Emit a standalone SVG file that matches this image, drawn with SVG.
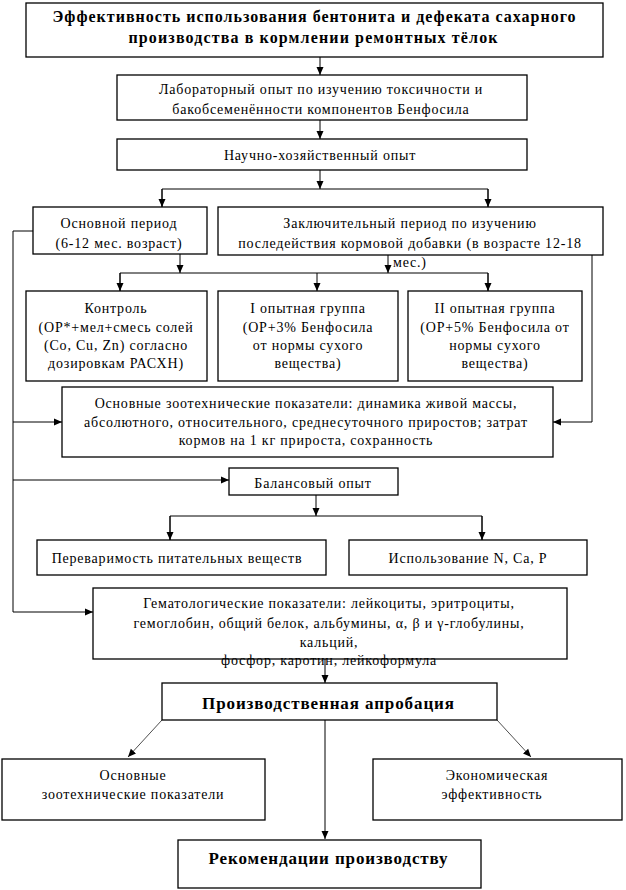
<svg xmlns="http://www.w3.org/2000/svg" width="626" height="890" viewBox="0 0 626 890">
<style>
.box{fill:#fff;stroke:#000;stroke-width:1.3}
.t{font-family:"Liberation Serif","Times New Roman",serif;font-size:14px;letter-spacing:0.8px;fill:#000;text-anchor:middle}
.tb{font-family:"Liberation Serif","Times New Roman",serif;font-size:16px;font-weight:bold;fill:#000;text-anchor:middle}
.tb2{font-family:"Liberation Serif","Times New Roman",serif;font-size:17px;font-weight:bold;fill:#000;text-anchor:middle}
.c{fill:none;stroke:#000;stroke-width:1}
.d{fill:none;stroke:#222;stroke-width:0.8}
</style>
<defs>
<marker id="ah" viewBox="0 0 8 8" refX="8" refY="4" markerWidth="8" markerHeight="8" markerUnits="userSpaceOnUse" orient="auto">
<path d="M0,0.5 L8,4 L0,7.5 z" fill="#000"/>
</marker>
</defs>
<rect width="626" height="890" fill="#fff"/>
<g id="connectors">
<line class="c" x1="320" y1="57" x2="320" y2="75" marker-end="url(#ah)"/>
<line class="c" x1="320" y1="120" x2="320" y2="139" marker-end="url(#ah)"/>
<line class="c" x1="320" y1="170" x2="320" y2="189" marker-end="url(#ah)"/>
<polyline class="c" points="162,207 162,189 488,189 488,207"/>
<line class="c" x1="162" y1="189" x2="162" y2="207" marker-end="url(#ah)"/>
<line class="c" x1="488" y1="189" x2="488" y2="207" marker-end="url(#ah)"/>
<line class="c" x1="180" y1="254" x2="180" y2="273" marker-end="url(#ah)"/>
<line class="c" x1="388" y1="255" x2="388" y2="273" marker-end="url(#ah)"/>
<polyline class="c" points="120,291 120,273 488,273 488,291"/>
<line class="c" x1="120" y1="273" x2="120" y2="291" marker-end="url(#ah)"/>
<line class="c" x1="317" y1="273" x2="317" y2="291" marker-end="url(#ah)"/>
<line class="c" x1="488" y1="273" x2="488" y2="291" marker-end="url(#ah)"/>
<polyline class="c" points="33,231 13,231 13,612"/>
<line class="c" x1="13" y1="422" x2="62" y2="422" marker-end="url(#ah)"/>
<line class="c" x1="13" y1="480" x2="229" y2="480" marker-end="url(#ah)"/>
<line class="c" x1="13" y1="612" x2="93" y2="612" marker-end="url(#ah)"/>
<polyline class="c" points="592,255 592,422 553,422" marker-end="url(#ah)"/>
<line class="c" x1="316" y1="495" x2="316" y2="516" marker-end="url(#ah)"/>
<polyline class="c" points="170,540 170,516 482,516 482,540"/>
<line class="c" x1="170" y1="516" x2="170" y2="540" marker-end="url(#ah)"/>
<line class="c" x1="482" y1="516" x2="482" y2="540" marker-end="url(#ah)"/>
<line class="c" x1="325" y1="659" x2="325" y2="683" marker-end="url(#ah)"/>
<line class="d" x1="162" y1="720" x2="128" y2="757" marker-end="url(#ah)"/>
<line class="d" x1="497" y1="720" x2="531" y2="757" marker-end="url(#ah)"/>
<line class="c" x1="325" y1="720" x2="325" y2="839" marker-end="url(#ah)"/>
</g>
<g id="n-title">
<rect class="box" x="26" y="3" width="577" height="54"/>
<text class="tb" x="314" y="22" textLength="523" lengthAdjust="spacing">Эффективность использования бентонита и дефеката сахарного</text>
<text class="tb" x="313" y="43" textLength="369" lengthAdjust="spacing">производства в кормлении ремонтных тёлок</text>
</g>
<g id="n-lab">
<rect class="box" x="117" y="75" width="410" height="45"/>
<text class="t" x="321" y="94">Лабораторный опыт по изучению токсичности и</text>
<text class="t" x="321" y="114">бакобсеменённости компонентов Бенфосила</text>
</g>
<g id="n-nho">
<rect class="box" x="117" y="139" width="410" height="31"/>
<text class="t" x="320" y="160">Научно-хозяйственный опыт</text>
</g>
<g id="n-main-period">
<rect class="box" x="33" y="207" width="174" height="47"/>
<text class="t" x="119" y="228">Основной период</text>
<text class="t" x="119" y="248">(6-12 мес. возраст)</text>
</g>
<g id="n-final-period">
<rect class="box" x="218" y="207" width="385" height="48"/>
<text class="t" x="410" y="228">Заключительный период по изучению</text>
<text class="t" x="410" y="248">последействия кормовой добавки (в возрасте 12-18</text>
<text class="t" x="393" y="267" style="text-anchor:start">мес.)</text>
</g>
<g id="n-control">
<rect class="box" x="26" y="291" width="181" height="90"/>
<text class="t" x="116" y="313">Контроль</text>
<text class="t" x="116" y="332">(ОР*+мел+смесь солей</text>
<text class="t" x="116" y="350">(Co, Cu, Zn) согласно</text>
<text class="t" x="116" y="368">дозировкам РАСХН)</text>
</g>
<g id="n-group1">
<rect class="box" x="218" y="291" width="180" height="90"/>
<text class="t" x="308" y="313">I опытная группа</text>
<text class="t" x="308" y="332">(ОР+3% Бенфосила</text>
<text class="t" x="308" y="350">от нормы сухого</text>
<text class="t" x="308" y="368">вещества)</text>
</g>
<g id="n-group2">
<rect class="box" x="408" y="291" width="174" height="90"/>
<text class="t" x="495" y="313">II опытная группа</text>
<text class="t" x="495" y="332">(ОР+5% Бенфосила от</text>
<text class="t" x="495" y="350">нормы сухого</text>
<text class="t" x="495" y="368">вещества)</text>
</g>
<g id="n-zoo">
<rect class="box" x="62" y="387" width="491" height="70"/>
<text class="t" x="306" y="408">Основные зоотехнические показатели: динамика живой массы,</text>
<text class="t" x="306" y="427">абсолютного, относительного, среднесуточного приростов; затрат</text>
<text class="t" x="306" y="445">кормов на 1 кг прироста, сохранность</text>
</g>
<g id="n-balance">
<rect class="box" x="229" y="468" width="169" height="27"/>
<text class="t" x="313" y="488">Балансовый опыт</text>
</g>
<g id="n-digest">
<rect class="box" x="37" y="540" width="289" height="35"/>
<text class="t" x="177" y="563">Переваримость питательных веществ</text>
</g>
<g id="n-use">
<rect class="box" x="349" y="540" width="238" height="35"/>
<text class="t" x="468" y="563">Использование N, Ca, P</text>
</g>
<g id="n-hem">
<rect class="box" x="93" y="588" width="474" height="71"/>
<text class="t" x="329" y="608">Гематологические показатели: лейкоциты, эритроциты,</text>
<text class="t" x="329" y="628">гемоглобин, общий белок, альбумины, α, β и γ-глобулины,</text>
<text class="t" x="329" y="647">кальций,</text>
<text class="t" x="329" y="665">фосфор, каротин, лейкоформула</text>
</g>
<g id="n-prod">
<rect class="box" x="162" y="683" width="335" height="37"/>
<text class="tb2" x="328" y="709" textLength="252" lengthAdjust="spacing">Производственная апробация</text>
</g>
<g id="n-zoo2">
<rect class="box" x="2" y="759" width="263" height="61"/>
<text class="t" x="133" y="780">Основные</text>
<text class="t" x="133" y="799">зоотехнические показатели</text>
</g>
<g id="n-econ">
<rect class="box" x="373" y="759" width="249" height="61"/>
<text class="t" x="497" y="780">Экономическая</text>
<text class="t" x="492" y="799">эффективность</text>
</g>
<g id="n-rec">
<rect class="box" x="178" y="840" width="303" height="48"/>
<text class="tb2" x="328" y="864" textLength="239" lengthAdjust="spacing">Рекомендации производству</text>
</g>
</svg>
